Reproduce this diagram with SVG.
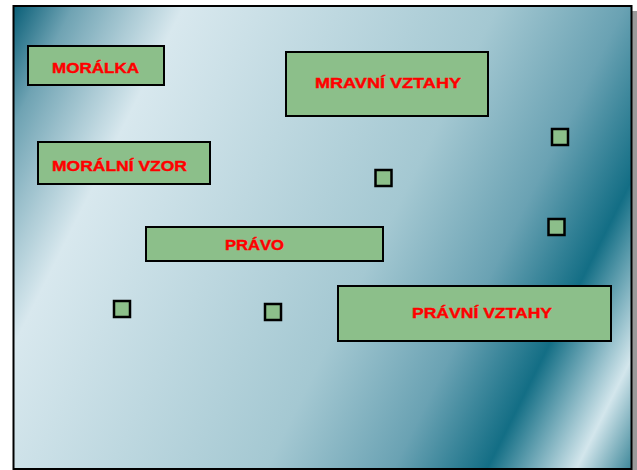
<svg xmlns="http://www.w3.org/2000/svg" width="637" height="470" viewBox="0 0 637 470">
<defs>
<linearGradient id="bg" gradientUnits="userSpaceOnUse" x1="14" y1="6" x2="693" y2="346">
<stop offset="0" stop-color="#0a5f78"/>
<stop offset="0.07" stop-color="#6fa3b3"/>
<stop offset="0.2" stop-color="#d8e8ee"/>
<stop offset="0.57" stop-color="#a4c8d2"/>
<stop offset="0.72" stop-color="#6aa2b3"/>
<stop offset="0.83" stop-color="#136e85"/>
<stop offset="0.935" stop-color="#d3e6ec"/>
<stop offset="1" stop-color="#3d8799"/>
</linearGradient>
<style>
.box{fill:#8cbf8a;stroke:#000;stroke-width:2}
.sq{fill:#8cbf8a;stroke:#000;stroke-width:2.5}
.lbl{font-family:"Liberation Sans",Arial,sans-serif;font-weight:bold;font-size:15px;fill:#ff0000;stroke:#ff0000;stroke-width:0.4}
</style>
</defs>
<rect x="632" y="11" width="5" height="459" fill="#9a9a9a"/>
<rect x="13.5" y="6" width="618" height="463" fill="url(#bg)" stroke="#000" stroke-width="2"/>
<g id="moralka">
<rect class="box" x="28" y="46" width="136" height="39"/>
<text class="lbl" x="52" y="73" textLength="87" lengthAdjust="spacingAndGlyphs" style="font-size:14px">MORÁLKA</text>
</g>
<g id="mravni-vztahy">
<rect class="box" x="286" y="52" width="202" height="64"/>
<text class="lbl" x="315" y="88" textLength="146" lengthAdjust="spacingAndGlyphs">MRAVNÍ VZTAHY</text>
</g>
<g id="moralni-vzor">
<rect class="box" x="38" y="142" width="172" height="42"/>
<text class="lbl" x="52" y="170.5" textLength="135" lengthAdjust="spacingAndGlyphs">MORÁLNÍ VZOR</text>
</g>
<g id="pravo">
<rect class="box" x="146" y="227" width="237" height="34"/>
<text class="lbl" x="225" y="250" textLength="59" lengthAdjust="spacingAndGlyphs">PRÁVO</text>
</g>
<g id="pravni-vztahy">
<rect class="box" x="338" y="286" width="273" height="55"/>
<text class="lbl" x="412" y="317.5" textLength="140" lengthAdjust="spacingAndGlyphs">PRÁVNÍ VZTAHY</text>
</g>
<g id="sq1"><rect class="sq" x="114" y="301" width="16" height="16"/></g>
<g id="sq2"><rect class="sq" x="265" y="304" width="16" height="16"/></g>
<g id="sq3"><rect class="sq" x="375.5" y="170" width="16" height="16"/></g>
<g id="sq4"><rect class="sq" x="552" y="129" width="16" height="16"/></g>
<g id="sq5"><rect class="sq" x="548.5" y="219" width="16" height="16"/></g>
<g id="connectors"></g>
</svg>
